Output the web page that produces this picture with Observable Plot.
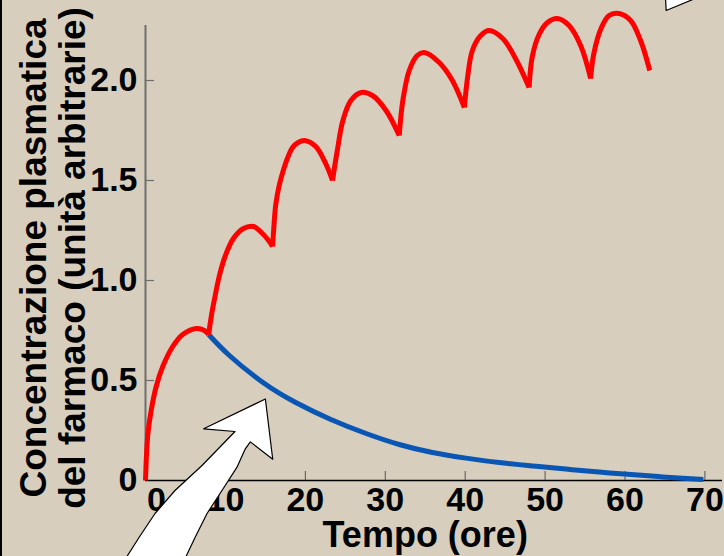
<!DOCTYPE html>
<html><head><meta charset="utf-8">
<script src="https://cdn.jsdelivr.net/npm/d3@7"></script>
<script src="https://cdn.jsdelivr.net/npm/@observablehq/plot@0.6"></script>
<style>
html,body{margin:0;padding:0;overflow:hidden;background:#d7cebe;}
#chart{position:relative;width:724px;height:556px;box-shadow: inset 2px 0 0 #000;}
#chart svg{display:block;}
</style></head><body><div id="chart"></div>
<script>
// Repeated doses (every 8 h) - red
const redHours = [0,0.29,0.71,1.34,2.16,3.41,4.66,6.34,7.38,7.9,
  8.25,8.6,9.25,10.0,11.0,12.25,13.5,14.5,15.4,15.9,
  16.05,16.3,16.7,17.2,17.8,18.4,19.1,19.9,21.3,22.6,23.4,
  24.0,24.7,25.7,27.0,28.4,30.1,31.75,
  32.2,33.0,34.0,34.9,36.75,38.4,39.9,
  40.3,40.9,41.95,43.0,44.7,46.3,48.0,
  48.4,49.25,50.3,51.55,53.0,54.5,55.7,
  56.1,57.0,58.0,59.25,60.7,61.95,63.1];
const redConc = [0,0.23,0.35,0.47,0.57,0.67,0.73,0.76,0.75,0.73,
  0.825,0.9,1.025,1.125,1.21,1.26,1.27,1.24,1.2,1.17,
  1.26,1.38,1.47,1.545,1.615,1.665,1.69,1.70,1.67,1.58,1.50,
  1.65,1.80,1.90,1.94,1.925,1.85,1.725,
  1.90,2.05,2.125,2.14,2.09,2.0,1.865,
  2.015,2.15,2.225,2.25,2.21,2.11,1.965,
  2.12,2.23,2.29,2.31,2.275,2.17,2.01,
  2.135,2.26,2.325,2.335,2.3,2.2,2.05];
// Hours at which each new dose starts (curve cusps)
const redCuspHours = [7.9,15.9,23.4,31.75,39.9,48.0,55.7];
// Single dose decay - blue
const blueHours = [7.9,10.5,14.7,18.8,23.2,27.6,31.75,35.9,40.1,44.25,48.4,52.6,56.75,59.9,64.7,69.8];
const blueConc  = [0.73,0.625,0.49,0.39,0.305,0.235,0.18,0.14,0.112,0.09,0.073,0.057,0.042,0.033,0.018,0.005];

const xTicks = [0,10,20,30,40,50,60,70];
const xTickLabels = ["0","10","20","30","40","50","60","70"];
const yTicks = [0,0.5,1,1.5,2];
const yTickLabels = ["0","0.5","1.0","1.5","2.0"];
const xTitle = "Tempo (ore)";
const yTitleLines = ["Concentrazione plasmatica","del farmaco (unità arbitrarie)"];

// Annotation arrows (outline, data units)
const arrowLowX = [-3.44,-2.32,-0.81,1.19,3.69,7.07,11.2,7.28,15.0,15.92,13.12,12.49,11.45,9.57,7.7,6.2,5.07,4.32];
const arrowLowY = [-0.46,-0.38,-0.285,-0.165,-0.05,0.075,0.245,0.2585,0.4075,0.1065,0.193,0.1585,0.0665,-0.05,-0.165,-0.285,-0.38,-0.46];
const arrowTopX = [64.9,65.15,71.2,71.2];
const arrowTopY = [2.55,2.35,2.45,2.55];

// split the red curve into dose cycles so cusps stay sharp
const red = [];
redHours.forEach((h, i) => {
  const k = redCuspHours.filter(c => c < h).length;
  red.push({h, c: redConc[i], k});
  if (redCuspHours.includes(h)) red.push({h, c: redConc[i], k: k + 1});
});
const blue = blueHours.map((h,i)=>({h, c: blueConc[i]}));
const arrowLow = arrowLowX.map((x,i)=>({x, y: arrowLowY[i]}));
const arrowTop = arrowTopX.map((x,i)=>({x, y: arrowTopY[i]}));

const font = "'Liberation Sans', Arial, Helvetica, sans-serif";
const W = 724, H = 556, mL = 145, mR = 2, mT = 25, mB = 76;
const xMax = 72.2, yMax = 2.275;
const tickPx = 9;
const tickX = tickPx * xMax / (W - mL - mR);   // tick length in x units
const tickY = tickPx * yMax / (H - mT - mB);   // tick length in y units

const chart = Plot.plot({
  width: W, height: H,
  marginLeft: mL, marginRight: mR, marginTop: mT, marginBottom: mB,
  x: {domain: [0, xMax], axis: null},
  y: {domain: [0, yMax], axis: null},
  style: {background: "transparent", overflow: "hidden", fontFamily: font},
  marks: [
    Plot.ruleX([0], {y1: 0, y2: yMax, stroke: "#6e6e6e", strokeWidth: 2}),
    Plot.ruleY([0], {stroke: "#000", strokeWidth: 1.5}),
    Plot.ruleY(yTicks.slice(1), {y: d => d, x1: 0, x2: tickX, stroke: "#6e6e6e", strokeWidth: 1.2}),
    Plot.ruleX(xTicks.slice(1), {x: d => d, y1: 0, y2: tickY, stroke: "#555", strokeWidth: 1}),
    Plot.line(blue, {x: "h", y: "c", stroke: "#0a56b4", strokeWidth: 5, curve: "natural", strokeLinecap: "butt"}),
    Plot.line(red, {x: "h", y: "c", z: "k", stroke: "#ff0000", strokeWidth: 5, curve: "catmull-rom", strokeLinecap: "butt"}),
    Plot.text(yTicks, {x: 0, y: d => d, text: (d, i) => yTickLabels[i], textAnchor: "end", dx: -8,
      fontSize: 34, fontWeight: "bold", fill: "#000"}),
    Plot.text(xTicks.slice(1), {x: d => d, y: 0, text: (d, i) => xTickLabels[i + 1], lineAnchor: "top", dy: 6,
      fontSize: 34, fontWeight: "bold", fill: "#000"}),
    Plot.text(xTicks.slice(0, 1), {x: d => d, y: 0, text: (d, i) => xTickLabels[i], lineAnchor: "top", dy: 6, dx: 11,
      fontSize: 34, fontWeight: "bold", fill: "#000"}),
    Plot.text([yTitleLines.join("\n")], {frameAnchor: "left", rotate: -90, dx: -92.5, dy: 5,
      fontSize: 37, fontWeight: "bold", lineHeight: 1.05, textAnchor: "middle", lineAnchor: "middle", fill: "#000"}),
    Plot.text([xTitle], {x: 35, frameAnchor: "bottom", lineAnchor: "middle", dy: 55,
      fontSize: 36, fontWeight: "bold", fill: "#000"}),
    Plot.line(arrowLow, {x: "x", y: "y", fill: "white", stroke: "#000", strokeWidth: 1.2, curve: "linear", clip: false}),
    Plot.line(arrowTop, {x: "x", y: "y", fill: "white", stroke: "#000", strokeWidth: 1.2, curve: "linear", clip: false})
  ]
});
document.getElementById("chart").appendChild(chart);
</script></body></html>
